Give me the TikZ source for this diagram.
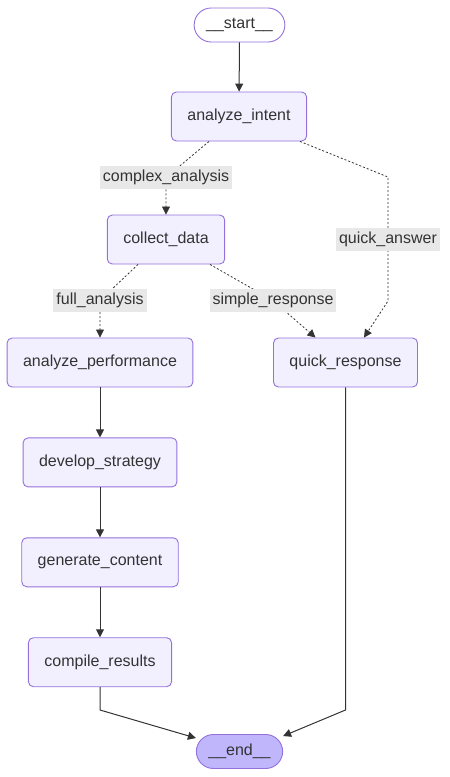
\documentclass[tikz,border=0pt]{standalone}
\usepackage{fontspec}
\setmainfont{Liberation Sans}
\usetikzlibrary{arrows.meta,positioning}
\definecolor{nodefill}{HTML}{F2F0FF}
\definecolor{nodeline}{HTML}{9370DB}
\definecolor{endfill}{HTML}{BFB6FC}
\definecolor{ink}{HTML}{333333}
\definecolor{lblfill}{HTML}{E8E8E8}

\begin{document}
\begin{tikzpicture}[x=1pt,y=-1pt,>={Triangle[length=8pt,width=8pt]},node distance=50pt,
  every node/.style={font=\fontsize{16}{19}\selectfont,text=ink},
  box/.style={draw=nodeline,fill=nodefill,rounded corners=5pt,line width=0.9pt,minimum height=49pt,inner xsep=16pt},
  term/.style={draw=nodeline,rounded corners=17pt,line width=0.9pt,minimum height=34pt,inner xsep=12pt},
  lbl/.style={fill=lblfill,inner xsep=3pt,inner ysep=2pt,minimum height=23pt},
  flow/.style={->,draw=ink,line width=1pt},
  cond/.style={->,draw=ink,line width=0.8pt,dash pattern=on 2pt off 2pt}]
\useasboundingbox (0,0) rectangle (450,777);

% nodes
\node[term,fill=white] (start) at (239.5,25) {\_\_start\_\_};
\node[box] (intent) at (239,116.5) {analyze\_intent};
\node[box] (collect) at (166,239.5) {collect\_data};
\node[box] (perf) at (100,362.5) {analyze\_performance};
\node[box] (qresp) at (345.5,362.5) {quick\_response};
\node[box,below=of perf] (strategy) {develop\_strategy};
\node[box,below=of strategy] (content) {generate\_content};
\node[box,below=of content] (compile) {compile\_results};
\node[term,fill=endfill] (end) at (239.5,751.5) {\_\_end\_\_};

% edges
\draw[flow] (start) -- (intent);
\draw[cond] ([xshift=-30pt]intent.south) -- (166,177.5) node[lbl]{complex\_analysis} -- (collect);
\draw[cond] ([xshift=61pt]intent.south) -- (388,177) -- (388,239.5) node[lbl]{quick\_answer}
  -- (388,301) -- ([xshift=18.5pt]qresp.north);
\draw[cond] ([xshift=-28pt]collect.south) -- (100,300.5) node[lbl]{full\_analysis} -- (perf);
\draw[cond] ([xshift=44pt]collect.south) -- (273,300.5) node[lbl]{simple\_response} -- ([xshift=-30pt]qresp.north);
\draw[flow] (perf) -- (strategy);
\draw[flow] (strategy) -- (content);
\draw[flow] (content) -- (compile);
\draw[flow] (compile.south) -- (compile.south |- 0,710) -- ([yshift=-4pt]end.north west);
\draw[flow] (qresp.south) -- (qresp.south |- 0,710) -- ([yshift=-2pt]end.north east);
\end{tikzpicture}
\end{document}
